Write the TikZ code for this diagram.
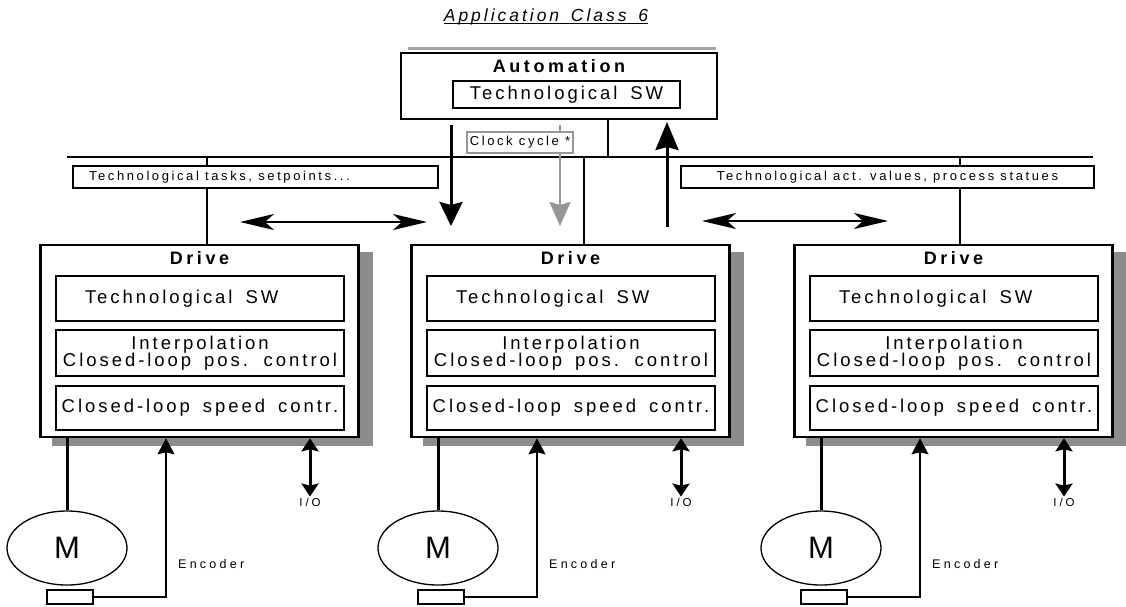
\documentclass[tikz,border=0pt]{standalone}
\usepackage{fontspec}
\setmainfont{Liberation Sans}
\newfontfamily\fBox[LetterSpace=16,WordSpace=1.6]{Liberation Sans}
\newfontfamily\fSmall[LetterSpace=20,WordSpace=1.5]{Liberation Sans}
\newfontfamily\fHead[LetterSpace=20]{Liberation Sans}
\newfontfamily\fTitle[LetterSpace=17,WordSpace=1.5]{Liberation Sans}
\newfontfamily\fEnc[LetterSpace=26]{Liberation Sans}
\usetikzlibrary{arrows.meta,backgrounds,shapes.geometric}
\definecolor{shadowgray}{RGB}{140,140,140}
\definecolor{stripgray}{RGB}{165,165,165}
\definecolor{arrowgray}{RGB}{150,150,150}
\begin{document}
\begin{tikzpicture}[x=1pt,y=-1pt,
  thinline/.style={line width=1.2pt},
  drive/.style={draw, line width=2.6pt, minimum width=318pt, minimum height=192pt, fill=white, inner sep=0pt},
  inbox/.style={draw, line width=1.1pt, minimum width=288pt, inner sep=0pt, fill=white,
      font=\fBox\fontsize{18.5}{17.5}\selectfont, align=center},
  headtext/.style={font=\fHead\fontsize{18}{18}\selectfont\bfseries, inner sep=0pt},
  smallbox/.style={draw, line width=1.1pt, minimum height=22pt, inner sep=0pt, fill=white,
      font=\fSmall\fontsize{13}{14}\selectfont},
  clockbox/.style={draw=arrowgray, line width=1.1pt, minimum width=106pt, minimum height=21pt, inner sep=0pt, fill=white,
      font=\fSmall\fontsize{13}{14}\selectfont},
  motor/.style={draw, ellipse, line width=1.3pt, minimum width=120pt, minimum height=74pt, inner sep=0pt,
      font=\fontsize{31}{31}\selectfont},
  encbox/.style={draw, line width=1.1pt, minimum width=46pt, minimum height=14pt, inner sep=0pt},
  enctext/.style={font=\fEnc\fontsize{12.5}{13}\selectfont, inner sep=0pt},
  iotext/.style={font=\fEnc\fontsize{11.5}{12}\selectfont, inner sep=1pt},
  motorline/.style={line width=3pt},
  bigarrow/.style={line width=3pt, -{Stealth[length=24pt,width=23pt,inset=3pt]}},
  bigarrowup/.style={line width=3pt, -{Stealth[length=28pt,width=23pt,inset=3pt]}},
  grayarrow/.style={draw=arrowgray, line width=2.4pt, -{Stealth[length=24pt,width=21pt,inset=3pt]}},
  hdouble/.style={line width=1.8pt, {Stealth[length=34pt,width=16pt,inset=9pt]}-{Stealth[length=34pt,width=16pt,inset=9pt]}},
  encarrow/.style={line width=1.2pt, -{Stealth[length=16pt,width=17pt,inset=2pt]}},
  ioarrow/.style={line width=3pt, {Stealth[length=13pt,width=17pt,inset=2pt]}-{Stealth[length=13pt,width=17pt,inset=2pt]}}
]
\useasboundingbox (0,0) rectangle (1126,606);
\begin{scope}[on background layer]
  \fill[white] (0,0) rectangle (1126,606);
\end{scope}

% title
\node[font=\fTitle\fontsize{17.5}{17.5}\selectfont\itshape, inner sep=0pt, anchor=base] (title) at (546,21) {Application Class 6};
\draw[line width=0.9pt] ([yshift=-2.3pt]title.base west) -- ([yshift=-2.3pt]title.base east);

% automation
\node[draw, line width=2.6pt, minimum width=316pt, minimum height=66pt, fill=white] (auto) at (559,86) {};
\node[headtext] (autot) at (559,66) {Automation};
\node[inbox, minimum width=227pt, minimum height=27pt] (asw) at (566.5,94.5) {Technological SW};
\begin{scope}[on background layer]
  \fill[stripgray] (408,47) rectangle (716,49.5);
\end{scope}

% bus
\coordinate (busL) at (67,157);
\coordinate (busR) at (1093,157);
\draw[thinline] (busL) -- (busR);
\coordinate (ab) at (608,157);
\draw[thinline] (auto.south -| ab) -- (ab);

% drives
\foreach \i/\L in {1/39,2/410,3/793}{
  \node[drive] (d\i) at (\L+160.5,341) {};
  \node[headtext] (dt\i) at ([yshift=-14.5pt]d\i.north) {Drive};
  \node[inbox, minimum height=45pt] (sw\i) at (\L+161,298.5) {\makebox[230pt][l]{Technological SW}};
  \node[inbox, minimum height=46pt] (ip\i) at (\L+161,353) {Interpolation\\Closed-loop pos. control};
  \node[inbox, minimum height=44pt] (sc\i) at (\L+161,408) {Closed-loop speed contr.};
  \node[motor] (m\i) at (\L+28,548) {M};
  \node[encbox] (e\i) at (\L+31,597) {};
  \node[enctext, anchor=west] (et\i) at (\L+139,564) {Encoder};
  \node[iotext] (io\i) at (\L+271,502) {I/O};
  \coordinate (c\i) at (\L+127,597);
  \draw[motorline] (m\i.north) -- (m\i.north |- d\i.south);
  \draw[encarrow] (e\i.east) -- (c\i) -- (c\i |- d\i.south);
  \draw[ioarrow] (io\i.north) -- (io\i.north |- d\i.south);
  \begin{scope}[on background layer]
    \fill[shadowgray] ([shift={(13,8)}]d\i.south west) rectangle ([shift={(13,8)}]d\i.north east);
  \end{scope}
}

% info boxes and their connections
\node[smallbox, minimum width=365pt] (tasks) at (255.5,177) {\makebox[333pt][l]{Technological tasks, setpoints...}};
\node[smallbox, minimum width=413pt] (acts) at (887.5,177) {\makebox[355pt][c]{Technological act. values, process statues}};
\coordinate (t1) at (207,157);
\draw[thinline] (t1) -- (t1 |- tasks.north);
\draw[thinline] (t1 |- tasks.south) -- (t1 |- d1.north);
\coordinate (t2) at (584,157);
\draw[thinline] (t2) -- (t2 |- d2.north);
\coordinate (t3) at (960,157);
\draw[thinline] (t3) -- (t3 |- acts.north);
\draw[thinline] (t3 |- acts.south) -- (t3 |- d3.north);

% vertical arrows
\coordinate (v1s) at (451,125);
\coordinate (v1e) at (451,226);
\draw[bigarrow] (v1s) -- (v1e);
\coordinate (v2s) at (560,125);
\coordinate (v2e) at (560,226);
\draw[grayarrow] (v2s) -- (v2e);
\coordinate (v3s) at (667,227);
\coordinate (v3e) at (667,122);
\draw[bigarrowup] (v3s) -- (v3e);
\node[clockbox] (clock) at (520,142.5) {Clock cycle *};

% horizontal double arrows
\coordinate (h1a) at (240,222);
\coordinate (h1b) at (427,222);
\draw[hdouble] (h1a) -- (h1b);
\coordinate (h2a) at (702,221);
\coordinate (h2b) at (888,221);
\draw[hdouble] (h2a) -- (h2b);
\end{tikzpicture}
\end{document}
